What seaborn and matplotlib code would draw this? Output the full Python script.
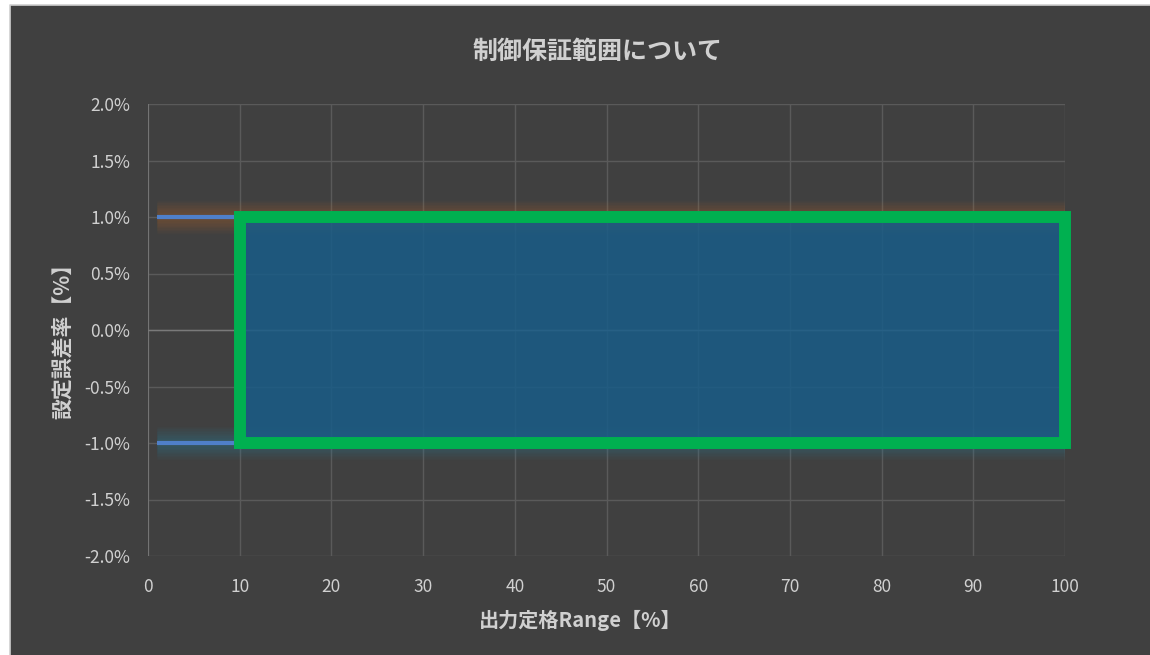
import numpy as np
import pandas as pd
import seaborn as sns
import matplotlib
matplotlib.use("Agg")
import matplotlib.pyplot as plt
from matplotlib.patches import Rectangle
from matplotlib.lines import Line2D
from matplotlib.ticker import FuncFormatter

# Chart data
range_pct = [1, 100]                 # output rating range [%]
upper_limit = [1.0, 1.0]             # setting error upper limit [%]
lower_limit = [-1.0, -1.0]           # setting error lower limit [%]
guarantee_x = [10, 100]              # guaranteed control range (x)
guarantee_top = [1.0, 1.0]
guarantee_bottom = [-1.0, -1.0]
x_ticks = [0, 10, 20, 30, 40, 50, 60, 70, 80, 90, 100]
y_ticks = [-2.0, -1.5, -1.0, -0.5, 0.0, 0.5, 1.0, 1.5, 2.0]

title = "制御保証範囲について"
x_label = "出力定格Range【%】"
y_label = "設定誤差率【%】"

BG = "#404040"
GRID = "#5a5a5a"
AXIS = "#7a7a7a"
TEXT = "#d0d0d0"

sns.set_theme(style="dark")
plt.rcParams["font.family"] = ["Noto Sans CJK JP", "DejaVu Sans"]

fig = plt.figure(figsize=(11.5, 6.55), dpi=100, facecolor="white")
# dark chart panel, thin light frame on the left and top
x0, y1 = 10 / 1150, 1 - 5 / 655
fig.patches.append(Rectangle((x0, 0), 1 - x0, y1, transform=fig.transFigure,
                             facecolor=BG, edgecolor="none", zorder=-10))
fig.lines.append(Line2D([x0, x0, 1], [0, y1, y1], transform=fig.transFigure,
                        color="#cfcfcf", linewidth=1.2, zorder=-9))

ax = fig.add_axes([148 / 1150, 1 - 556 / 655, (1065 - 148) / 1150, (556 - 104) / 655])
ax.set_zorder(1)
ax.set_facecolor(BG)

df = pd.DataFrame({"x": range_pct * 2,
                   "y": upper_limit + lower_limit,
                   "series": ["upper"] * 2 + ["lower"] * 2})

# soft glow behind each limit line
for w in np.linspace(24, 6, 10):
    ax.plot(range_pct, upper_limit, color="#c8782e", linewidth=w, alpha=0.035,
            solid_capstyle="butt", zorder=2)
    ax.plot(range_pct, lower_limit, color="#2f8fb0", linewidth=w, alpha=0.035,
            solid_capstyle="butt", zorder=2)

sns.lineplot(data=df, x="x", y="y", units="series", estimator=None,
             color="#4f7fc8", linewidth=3.0, ax=ax, zorder=3, legend=False,
             solid_capstyle="butt")

# guaranteed control range
ax.fill_between(guarantee_x, guarantee_bottom, guarantee_top,
                color="#195c87", alpha=0.85, linewidth=0, zorder=4)
ax.add_patch(Rectangle((guarantee_x[0], guarantee_bottom[0]),
                       guarantee_x[1] - guarantee_x[0],
                       guarantee_top[0] - guarantee_bottom[0],
                       fill=False, edgecolor="#00b050", linewidth=8.6,
                       joinstyle="miter", zorder=5, clip_on=False))

ax.set_xlim(0, 100)
ax.set_ylim(-2.0, 2.0)
ax.set_xticks(x_ticks)
ax.set_yticks(y_ticks)
ax.yaxis.set_major_formatter(FuncFormatter(lambda v, p: f"{v:.1f}%"))
ax.grid(True, color=GRID, linewidth=1.0, zorder=0)
ax.set_axisbelow(True)
for s in ax.spines.values():
    s.set_visible(False)
ax.axvline(0, color=AXIS, linewidth=1.2, zorder=1)
ax.axhline(0, color=AXIS, linewidth=1.0, zorder=1)
ax.tick_params(axis="both", colors=TEXT, labelsize=12.5, length=0)
ax.tick_params(axis="x", pad=16)
ax.tick_params(axis="y", pad=13)
ax.set_xlabel("")
ax.set_ylabel("")

fig.text(580 / 1150, 1 - 620 / 655, x_label, color=TEXT, fontsize=14.5,
         fontweight="bold", ha="center", va="center")
fig.text(62 / 1150, 1 - 336 / 655, y_label, color=TEXT, fontsize=15,
         fontweight="bold", ha="center", va="center", rotation=90)
fig.text(598 / 1150, 1 - 52 / 655, title, color=TEXT, fontsize=18, fontweight="bold",
         ha="center", va="center")

fig.savefig("out.png", dpi=100, facecolor=fig.get_facecolor())
